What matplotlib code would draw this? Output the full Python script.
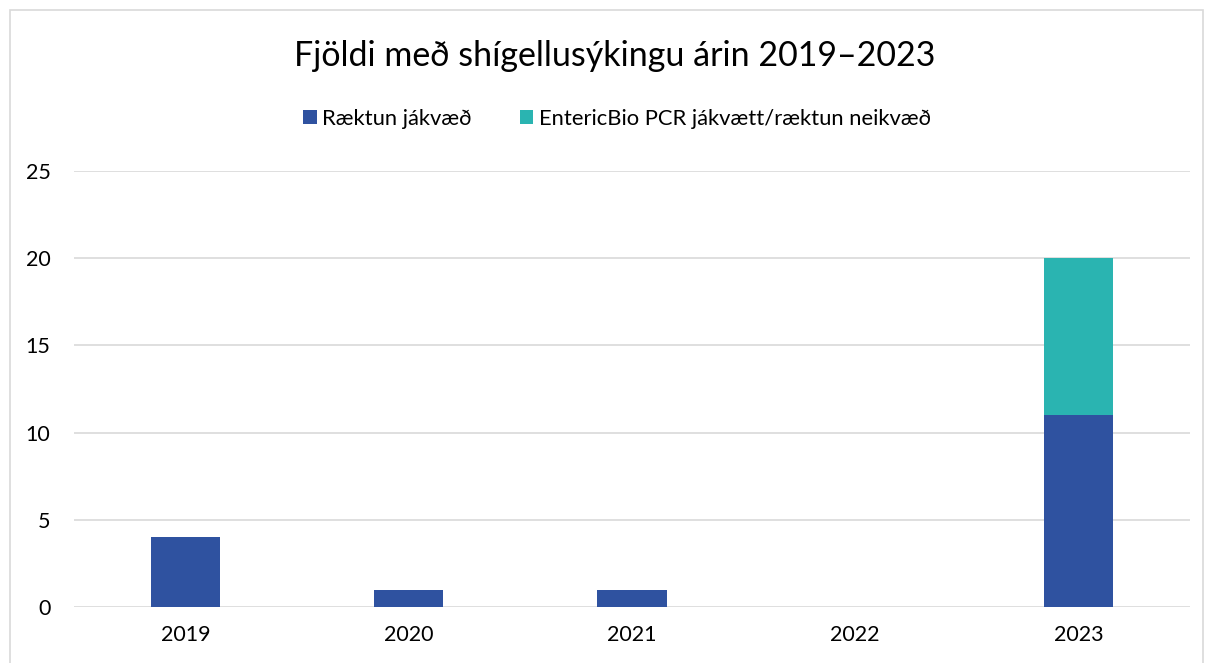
import matplotlib
matplotlib.use("Agg")
import matplotlib.pyplot as plt
from matplotlib.patches import Rectangle

years = ["2019", "2020", "2021", "2022", "2023"]
culture_pos = [4, 1, 1, 0, 11]
pcr_pos = [0, 0, 0, 0, 9]
series_names = ["Ræktun jákvæð", "EntericBio PCR jákvætt/ræktun neikvæð"]
title = "Fjöldi með shígellusýkingu árin 2019–2023"

plt.rcParams['font.family'] = ['Lato', 'DejaVu Sans']

fig = plt.figure(figsize=(12.09, 6.63), dpi=100)
ax = fig.add_axes([74/1209, 1-607/663, (1190-74)/1209, (607-171)/663])

x = list(range(len(years)))
c1 = "#2F52A0"
c2 = "#2AB4B1"
ax.bar(x, culture_pos, width=0.31, color=c1, label=series_names[0], zorder=3)
ax.bar(x, pcr_pos, width=0.31, bottom=culture_pos, color=c2, label=series_names[1], zorder=3)

ax.set_xlim(-0.5, len(years)-0.5)
ax.set_ylim(0, 25)
ax.set_yticks([0, 5, 10, 15, 20, 25])
ax.set_xticks(x)
ax.set_xticklabels(years)
ax.tick_params(axis='both', length=0, labelsize=15.5, colors='#000000')
ax.tick_params(axis='y', pad=17)
ax.tick_params(axis='x', pad=13)
ax.grid(axis='y', color='#D9D9D9', linewidth=1.2, zorder=0)
for s in ax.spines.values():
    s.set_visible(False)

fig.text(615/1209, 1-56/663, title, ha='center', va='center', fontsize=24.5)
fig.legend(loc='center', bbox_to_anchor=(617/1209, 1-119/663), ncol=2, frameon=False,
           fontsize=15.8, handlelength=0.6, handleheight=0.6, handletextpad=0.25,
           columnspacing=2.2)

fig.patches.append(Rectangle((10/1209, -0.01), (1203-10)/1209, 1-10/663+0.01,
                             transform=fig.transFigure, fill=False,
                             edgecolor='#D9D9D9', linewidth=1.2))

fig.savefig("out.png", dpi=100, facecolor='white')
